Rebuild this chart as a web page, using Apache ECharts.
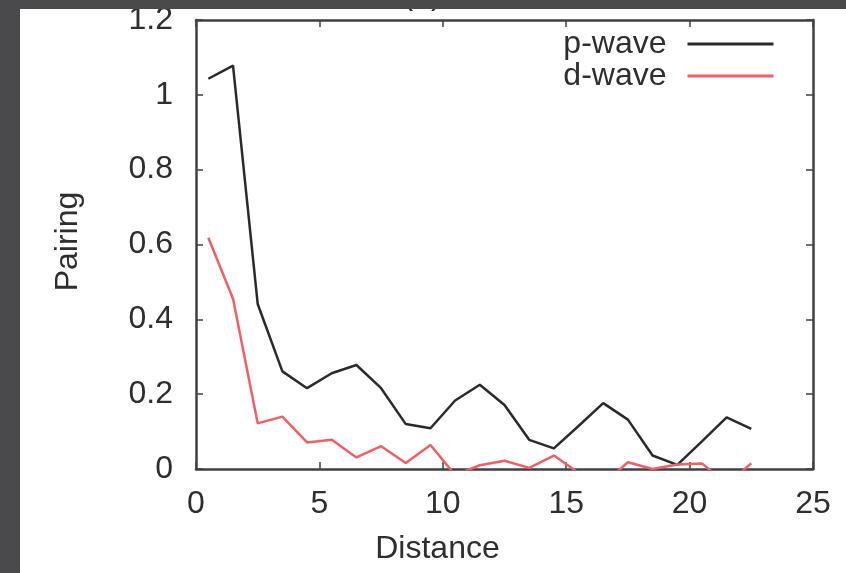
<!DOCTYPE html>
<html>
<head>
<meta charset="utf-8">
<script src="https://cdn.jsdelivr.net/npm/echarts@6/dist/echarts.min.js"></script>
<style>
html,body{margin:0;padding:0;background:#ffffff;}
#chart{width:846px;height:573px;}
</style>
</head>
<body>
<div id="chart"></div>
<script>
// Data
var distance = [0.5, 1.5, 2.5, 3.5, 4.5, 5.5, 6.5, 7.5, 8.5, 9.5, 10.5, 11.5, 12.5, 13.5, 14.5, 15.5, 16.5, 17.5, 18.5, 19.5, 20.5, 21.5, 22.5];
var pWave = [1.043, 1.078, 0.441, 0.261, 0.216, 0.256, 0.278, 0.216, 0.120, 0.109, 0.183, 0.225, 0.171, 0.078, 0.055, 0.115, 0.176, 0.132, 0.036, 0.011, 0.074, 0.138, 0.107];
var dWave = [0.618, 0.455, 0.122, 0.140, 0.071, 0.078, 0.031, 0.061, 0.016, 0.064, -0.016, 0.010, 0.022, 0.003, 0.036, -0.010, -0.040, 0.018, 0.000, 0.012, 0.015, -0.040, 0.015];
var seriesNames = ['p-wave', 'd-wave'];
var xTitle = 'Distance';
var yTitle = 'Pairing';
var panelLabel = '(a)';

function pairs(xs, ys) {
  var out = [];
  for (var i = 0; i < xs.length; i++) out.push([xs[i], ys[i]]);
  return out;
}

var FONT = 'Liberation Sans';
var TXT = '#2e2e2e';
var AX = '#404040';

var chart = echarts.init(document.getElementById('chart'), null, {renderer: 'canvas'});
var axisCommon = {
  type: 'value',
  splitLine: {show: false},
  axisLine: {show: true, onZero: false, lineStyle: {color: AX, width: 2.5}},
  axisTick: {show: true, inside: true, length: 7, lineStyle: {color: AX, width: 1.5}}
};
function mk(extra) { return echarts.util.merge(echarts.util.clone(axisCommon), extra, true); }

chart.setOption({
  animation: false,
  backgroundColor: '#ffffff',
  grid: {left: 196, right: 33, top: 20, bottom: 104, containLabel: false},
  legend: {
    orient: 'vertical',
    align: 'right',
    right: 66,
    top: 23,
    itemWidth: 86,
    itemHeight: 33,
    itemGap: 0,
    itemStyle: {opacity: 0},
    lineStyle: {width: 3},
    textStyle: {fontFamily: FONT, fontSize: 32, color: TXT, padding: [0, 16, 0, 0]},
    data: seriesNames
  },
  xAxis: [
    mk({position: 'bottom', min: 0, max: 25, interval: 5,
        axisLabel: {show: true, margin: 19, fontFamily: FONT, fontSize: 32, color: TXT}}),
    mk({position: 'top', min: 0, max: 25, interval: 5, axisLabel: {show: false}})
  ],
  yAxis: [
    mk({position: 'left', min: 0, max: 1.2, interval: 0.2,
        axisLabel: {show: true, margin: 23, fontFamily: FONT, fontSize: 32, color: TXT}}),
    mk({position: 'right', min: 0, max: 1.2, interval: 0.2, axisLabel: {show: false}})
  ],
  graphic: [
    {type: 'text', x: 437.5, y: 549, z: 10,
     style: {text: xTitle, font: '32px "Liberation Sans"', fill: TXT, align: 'center', verticalAlign: 'middle'}},
    {type: 'text', x: 68, y: 241.5, rotation: Math.PI / 2, z: 10,
     style: {text: yTitle, font: '32px "Liberation Sans"', fill: TXT, align: 'center', verticalAlign: 'middle'}},
    {type: 'text', x: 422, y: -5, z: 10,
     style: {text: panelLabel, font: '32px "Liberation Sans"', fill: TXT, align: 'center', verticalAlign: 'middle'}},
    {type: 'rect', shape: {x: 0, y: 0, width: 846, height: 9}, z: 100, style: {fill: '#4a4a4c'}},
    {type: 'rect', shape: {x: 0, y: 0, width: 20, height: 573}, z: 100, style: {fill: '#4a4a4c'}}
  ],
  series: [
    {name: seriesNames[0], type: 'line', xAxisIndex: 0, yAxisIndex: 0, symbol: 'none', clip: true,
     lineStyle: {color: '#2a2a2a', width: 2.5}, itemStyle: {color: '#2a2a2a'},
     data: pairs(distance, pWave)},
    {name: seriesNames[1], type: 'line', xAxisIndex: 0, yAxisIndex: 0, symbol: 'none', clip: true,
     lineStyle: {color: '#ef5f66', width: 2.5}, itemStyle: {color: '#ef5f66'},
     data: pairs(distance, dWave)}
  ]
});
</script>
</body>
</html>
